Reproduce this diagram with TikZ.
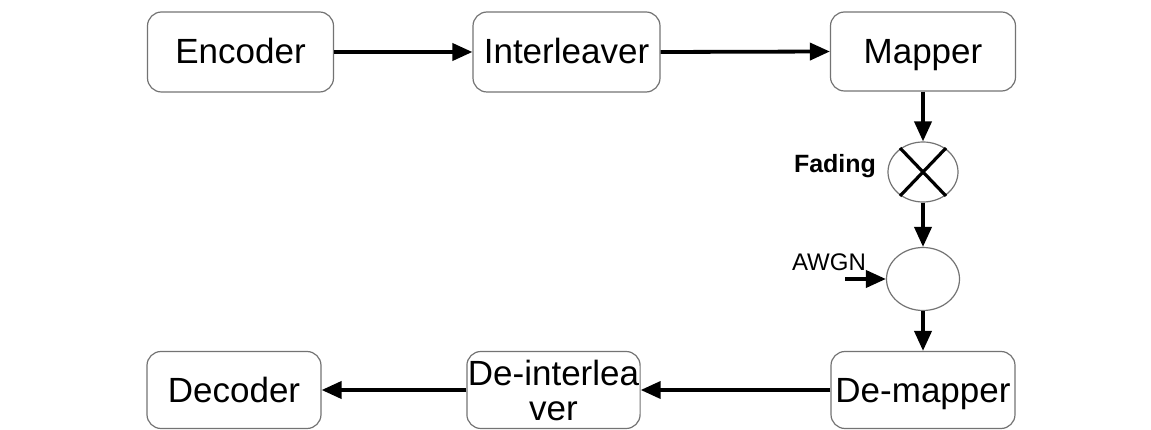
\documentclass[tikz,border=0pt]{standalone}
\usepackage{fontspec}
\setmainfont{Liberation Sans}
\usetikzlibrary{arrows.meta,shapes.geometric,calc}
\begin{document}
\begin{tikzpicture}[x=1pt,y=-1pt,
  blk/.style={draw=black!55,line width=1.2pt,rounded corners=14pt,minimum height=80pt,inner sep=1pt,align=center,font=\fontsize{35}{35}\selectfont},
  one/.style={text height=24pt,text depth=0pt},
  junc/.style={draw=black!55,line width=1.2pt,ellipse,inner sep=0pt},
  arr/.style={line width=3.8pt,-{Triangle[length=20pt,width=17pt]}},
  cross/.style={line width=3.2pt},
  lbl/.style={inner sep=0pt}
  ]
\useasboundingbox (0,0) rectangle (1151,430);
\node[blk,one,minimum width=186pt] (enc) at (240.5,52) {Encoder};
\node[blk,one,minimum width=187pt] (int) at (566.5,52) {Interleaver};
\node[blk,one,minimum width=185pt,minimum height=79pt] (map) at (923,51.5) {Mapper};
\node[junc,minimum width=70pt,minimum height=60pt] (fad) at (923,172) {};
\draw[cross] ($(fad.center)+(-23,-24)$) -- ($(fad.center)+(23,24)$);
\draw[cross] ($(fad.center)+(23,-24)$) -- ($(fad.center)+(-23,24)$);
\node[junc,minimum width=73pt,minimum height=63pt] (awgn) at (923,279) {};
\node[blk,one,minimum width=184pt,minimum height=77pt] (dmap) at (923,390) {De-mapper};
\node[blk,minimum width=173pt,minimum height=77pt] (dint) at (553.5,390) {De-interlea\\ver};
\node[blk,one,minimum width=174pt,minimum height=77pt] (dec) at (234,390) {Decoder};
\node[lbl,font=\bfseries\fontsize{25}{27}\selectfont] (fadl) at (835,166) {Fading};
\node[lbl,font=\fontsize{24}{26}\selectfont] (awgnl) at (829,262) {AWGN};
\coordinate (ain) at (845,279);
\draw[arr] (enc.east) -- (int.west);
\draw[arr] (int.east) -- (map.west);
\draw[arr] (map.south) -- (fad.north);
\draw[arr] (fad.south) -- (awgn.north);
\draw[arr] (ain) -- (awgn.west);
\draw[arr] (awgn.south) -- (dmap.north);
\draw[arr] (dmap.west) -- (dint.east);
\draw[arr] (dint.west) -- (dec.east);
\end{tikzpicture}
\end{document}
